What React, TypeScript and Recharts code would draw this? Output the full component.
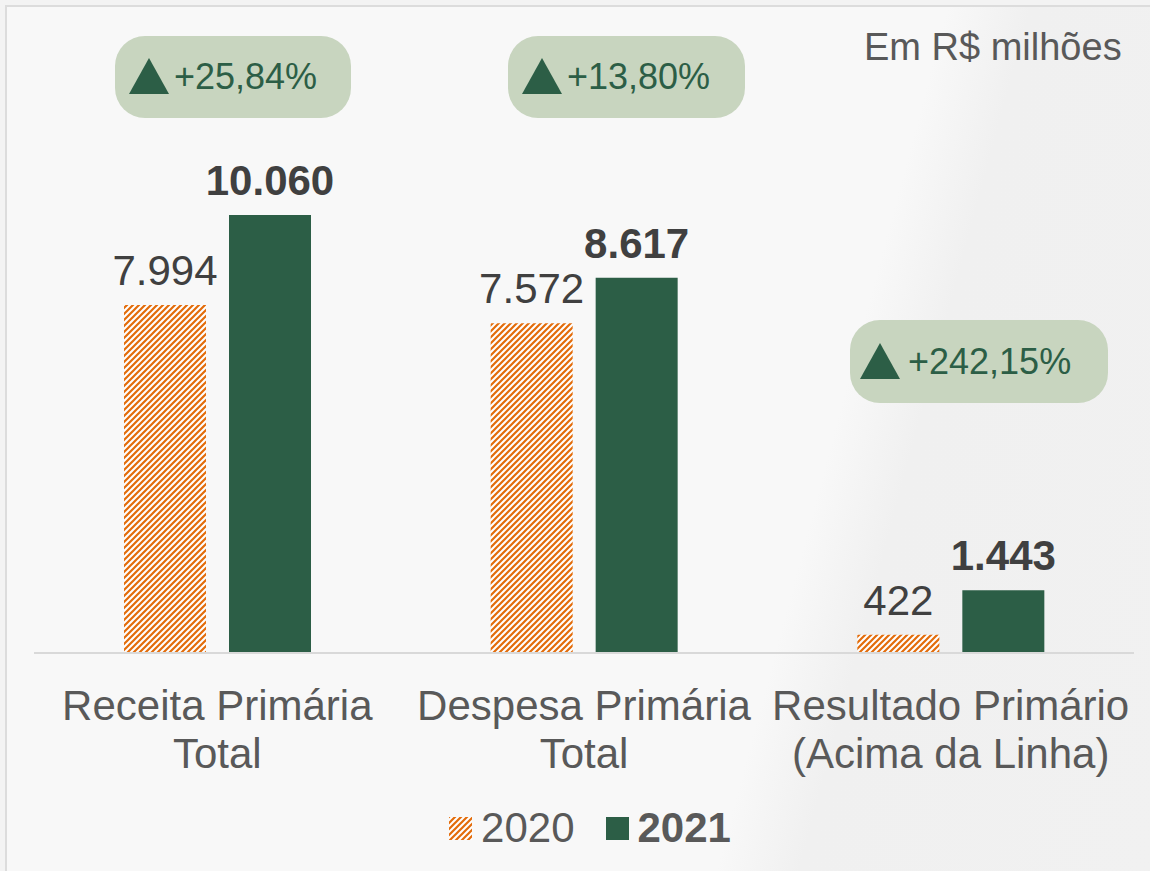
import React from 'react';
import { BarChart, Bar, XAxis, YAxis, LabelList, Legend } from 'recharts';

const categories = [
  ['Receita Primária', 'Total'],
  ['Despesa Primária', 'Total'],
  ['Resultado Primário', '(Acima da Linha)'],
];
const values2020 = [7994, 7572, 422];
const values2021 = [10060, 8617, 1443];
const labels2020 = ['7.994', '7.572', '422'];
const labels2021 = ['10.060', '8.617', '1.443'];
const variations = ['+25,84%', '+13,80%', '+242,15%'];

const data = categories.map((c, i) => ({
  name: c.join(' '),
  y2020: values2020[i],
  y2021: values2021[i],
  l2020: labels2020[i],
  l2021: labels2021[i],
}));

const GREEN = '#2c5e46';
const ORANGE = '#e36c0a';
const FONT = '"Liberation Sans", Arial, sans-serif';

// badge boxes over the chart
const badgeBoxes = [
  { left: 115, top: 36, width: 236, height: 82, pad: 14, gap: 5 },
  { left: 508, top: 36, width: 237, height: 82, pad: 14, gap: 5 },
  { left: 850, top: 320, width: 258, height: 83, pad: 10, gap: 8 },
];

function Badge({ text, box }: { text: string; box: any }) {
  return (
    <div
      style={{
        position: 'absolute',
        left: box.left,
        top: box.top,
        width: box.width,
        height: box.height,
        borderRadius: 30,
        background: '#c8d5bf',
        display: 'flex',
        alignItems: 'center',
        paddingLeft: box.pad,
        boxSizing: 'border-box',
        gap: box.gap,
        fontFamily: FONT,
        fontSize: 36,
        color: GREEN,
      }}
    >
      <svg width={40} height={36} style={{ display: 'block', marginTop: -2 }}>
        <polygon points="20,0 40,36 0,36" fill={GREEN} />
      </svg>
      <span>{text}</span>
    </div>
  );
}

function CategoryTick(props: any) {
  const { x, y, payload, index } = props;
  const lines = categories[index] ?? [payload.value];
  return (
    <g transform={`translate(${x},${y})`}>
      {lines.map((l, i) => (
        <text key={i} x={0} y={59 + i * 48} textAnchor="middle" fontSize={42} fill="#595959" fontFamily={FONT}>
          {l}
        </text>
      ))}
    </g>
  );
}

function Hatch({ id }: { id: string }) {
  return (
    <pattern id={id} patternUnits="userSpaceOnUse" width={6} height={6}>
      <rect width={6} height={6} fill="#ffffff" />
      <path d="M-1,1 l2,-2 M0,6 l6,-6 M5,7 l2,-2" stroke={ORANGE} strokeWidth={2.2} />
    </pattern>
  );
}

function LegendContent() {
  return (
    <div
      style={{
        display: 'flex',
        justifyContent: 'center',
        alignItems: 'center',
        paddingLeft: 12,
        height: 80,
        paddingBottom: 6,
        boxSizing: 'border-box',
        fontFamily: FONT,
        fontSize: 42,
        color: '#595959',
      }}
    >
      <svg width={23} height={23} style={{ marginRight: 9 }}>
        <defs>
          <Hatch id="hatchLegend" />
        </defs>
        <rect width={23} height={23} fill="url(#hatchLegend)" />
      </svg>
      <span style={{ marginRight: 31 }}>2020</span>
      <svg width={23} height={23} style={{ marginRight: 9 }}>
        <rect width={23} height={23} fill={GREEN} />
      </svg>
      <span style={{ fontWeight: 'bold' }}>2021</span>
    </div>
  );
}

export default function App() {
  return (
    <div style={{ position: 'fixed', left: 0, top: 0, width: 1150, height: 871, background: '#f3f3f3', overflow: 'hidden' }}>
      <div
        style={{
          position: 'absolute',
          left: 5,
          top: 5,
          width: 1150,
          height: 871,
          border: '2px solid #dcdcdc',
          background: 'linear-gradient(105deg, #f8f8f8 0%, #f8f8f8 68%, #f0f0f0 74%, #f1f1f1 100%)',
        }}
      />
      <div style={{ position: 'absolute', left: 0, top: 0 }}>
        <BarChart
          width={1150}
          height={871}
          data={data}
          margin={{ top: 0, right: 16, bottom: 0, left: 34 }}
          barSize={82}
          barGap={23}
        >
          <defs>
            <Hatch id="hatch2020" />
          </defs>
          <XAxis
            dataKey="name"
            height={138}
            tick={<CategoryTick />}
            tickLine={false}
            axisLine={{ stroke: '#d9d9d9', strokeWidth: 2 }}
            interval={0}
          />
          <YAxis hide domain={[0, 15000]} />
          <Legend verticalAlign="bottom" content={<LegendContent />} />
          <Bar dataKey="y2020" name="2020" fill="url(#hatch2020)" isAnimationActive={false}>
            <LabelList dataKey="l2020" position="top" offset={20} fontSize={42} fill="#404040" fontFamily={FONT} />
          </Bar>
          <Bar dataKey="y2021" name="2021" fill={GREEN} isAnimationActive={false}>
            <LabelList dataKey="l2021" position="top" offset={20} fontSize={42} fontWeight="bold" fill="#404040" fontFamily={FONT} />
          </Bar>
        </BarChart>
      </div>
      {variations.map((v, i) => (
        <Badge key={i} text={v} box={badgeBoxes[i]} />
      ))}
      <div
        style={{
          position: 'absolute',
          left: 864,
          top: 26,
          fontFamily: FONT,
          fontSize: 38,
          color: '#595959',
          lineHeight: '42px',
          whiteSpace: 'nowrap',
        }}
      >
        Em R$ milhões
      </div>
    </div>
  );
}
